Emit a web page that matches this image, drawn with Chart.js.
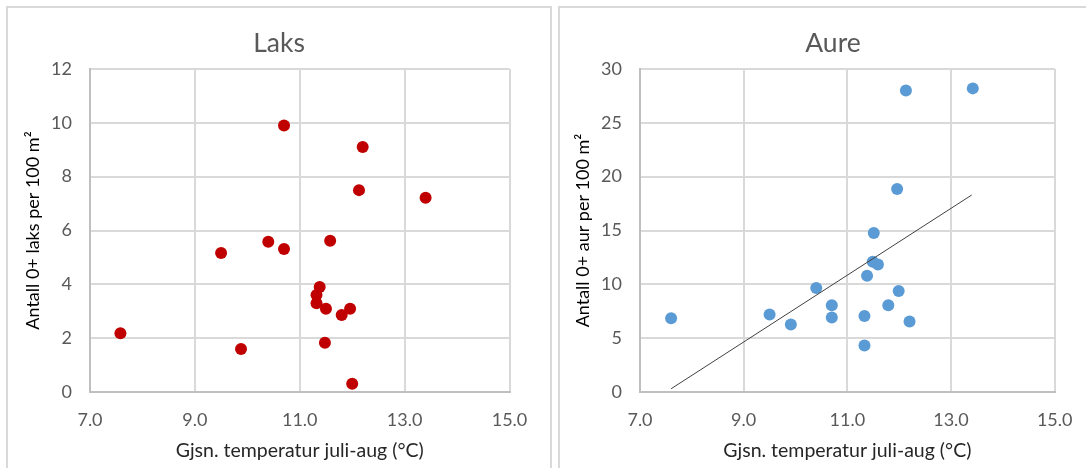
<!DOCTYPE html>
<html>
<head>
<meta charset="utf-8">
<script src="https://cdn.jsdelivr.net/npm/chart.js@4.4.0/dist/chart.umd.min.js"></script>
<style>
  html, body { margin: 0; padding: 0; background: #fff; overflow: hidden; }
  body { width: 1086px; height: 468px; position: relative; }
  .panel { position: absolute; border: 2px solid #d9d9d9; box-sizing: border-box; }
  canvas { position: absolute; top: 0; }
</style>
</head>
<body>
<div class="panel" style="left:6px; top:6px; width:546px; height:520px;"></div>
<div class="panel" style="left:558px; top:6px; width:560px; height:520px;"></div>
<canvas id="laks" width="555" height="468" style="left:0px"></canvas>
<canvas id="aure" width="555" height="468" style="left:556px"></canvas>
<script>
// Laks (salmon) 0+ density vs. mean July-August temperature
const laksTemp = [10.7, 12.2, 12.13, 13.4, 10.4, 10.7, 11.58, 9.5, 11.38, 11.32, 11.32, 11.5, 11.96, 11.8, 7.58, 9.88, 11.48, 12.0];
const laksDens = [9.9, 9.1, 7.5, 7.22, 5.58, 5.31, 5.62, 5.16, 3.9, 3.6, 3.3, 3.09, 3.09, 2.86, 2.18, 1.6, 1.83, 0.31];

// Aure (trout)
const aureTemp = [12.13, 13.42, 11.96, 11.51, 11.49, 11.59, 11.38, 10.4, 11.99, 10.7, 11.79, 9.5, 9.91, 10.7, 11.33, 12.2, 7.6, 11.33];
const aureDens = [28.0, 28.2, 18.86, 14.77, 12.09, 11.85, 10.8, 9.66, 9.38, 8.06, 8.06, 7.2, 6.28, 6.92, 7.05, 6.55, 6.86, 4.31];

// linear trend line for aure (end points)
const aureTrendX = [7.6, 13.4];
const aureTrendY = [0.3, 18.3];

const xTicks = [7, 9, 11, 13, 15];
const laksTicks = [0, 2, 4, 6, 8, 10, 12];
const aureTicks = [0, 5, 10, 15, 20, 25, 30];

const xTitle = 'Gjsn. temperatur juli-aug (°C)';
const FONT = 'Lato, "Open Sans", sans-serif';

function pts(xs, ys) {
  return xs.map((x, i) => ({ x: x, y: ys[i] }));
}

// chart title centred on the whole panel (not on the plot area like the built-in one)
const panelTitle = {
  id: 'panelTitle',
  afterDraw(chart, args, opts) {
    const ctx = chart.ctx;
    ctx.save();
    ctx.font = 'normal ' + opts.size + 'px ' + FONT;
    ctx.fillStyle = opts.color;
    ctx.textAlign = 'center';
    ctx.textBaseline = 'middle';
    ctx.fillText(opts.text, opts.x, opts.y);
    ctx.restore();
  }
};

function makeChart(id, title, titleX, yTitle, datasets, yTicks, yWidth, padRight, yTitlePad) {
  return new Chart(document.getElementById(id), {
    type: 'scatter',
    data: { datasets: datasets },
    plugins: [panelTitle],
    options: {
      responsive: false,
      animation: false,
      devicePixelRatio: 1,
      layout: { padding: { left: 0, right: padRight, top: 69, bottom: 0 } },
      plugins: {
        legend: { display: false },
        tooltip: { enabled: false },
        title: { display: false },
        panelTitle: { text: title, x: titleX, y: 43, size: 26.5, color: '#595959' }
      },
      scales: {
        x: {
          type: 'linear',
          min: xTicks[0],
          max: xTicks[xTicks.length - 1],
          afterBuildTicks: s => { s.ticks = xTicks.map(v => ({ value: v })); },
          afterFit: s => { s.height = 76; },
          grid: { color: '#d9d9d9', lineWidth: 2, drawTicks: false },
          border: { color: '#bfbfbf', width: 2 },
          ticks: {
            padding: 17,
            color: '#595959',
            font: { family: FONT, size: 18 },
            callback: v => v.toFixed(1)
          },
          title: {
            display: true,
            text: xTitle,
            color: '#262626',
            font: { family: FONT, size: 19.5 },
            padding: { top: 0, bottom: 5.3 }
          }
        },
        y: {
          type: 'linear',
          min: yTicks[0],
          max: yTicks[yTicks.length - 1],
          afterBuildTicks: s => { s.ticks = yTicks.map(v => ({ value: v })); },
          afterFit: s => { s.width = yWidth; },
          grid: { color: '#d9d9d9', lineWidth: 2, drawTicks: false },
          border: { color: '#bfbfbf', width: 2 },
          ticks: {
            padding: 18,
            color: '#595959',
            font: { family: FONT, size: 18 }
          },
          title: {
            display: true,
            text: yTitle,
            color: '#000000',
            font: { family: FONT, size: 18 },
            padding: { top: yTitlePad, bottom: 0 }
          }
        }
      }
    }
  });
}

makeChart('laks', 'Laks', 279, 'Antall 0+ laks per 100 m²', [
  {
    data: pts(laksTemp, laksDens),
    backgroundColor: '#C00000',
    borderWidth: 0,
    pointRadius: 6
  }
], laksTicks, 90, 45.5, 22.2);

makeChart('aure', 'Aure', 277, 'Antall 0+ aur per 100 m²', [
  {
    type: 'line',
    data: pts(aureTrendX, aureTrendY),
    borderColor: '#404040',
    borderWidth: 1,
    pointRadius: 0,
    fill: false
  },
  {
    data: pts(aureTemp, aureDens),
    backgroundColor: '#5B9BD5',
    borderWidth: 0,
    pointRadius: 6
  }
], aureTicks, 84, 56.3, 16.2);
</script>
</body>
</html>
